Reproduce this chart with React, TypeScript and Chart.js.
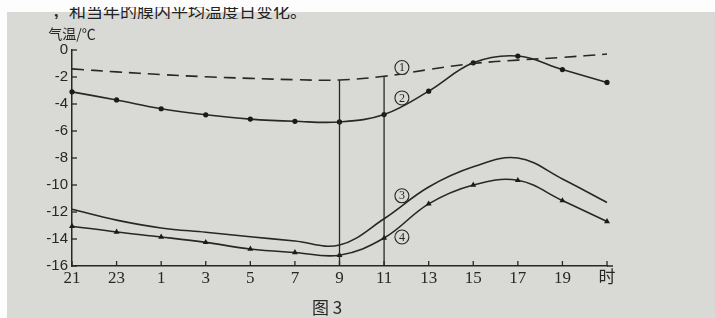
import React, { useEffect, useRef } from "react";
import { Chart, registerables } from "chart.js";

Chart.register(...registerables);

// Hours of the day (last position is the unit label "时", i.e. 21 h)
const hours = ["21", "23", "1", "3", "5", "7", "9", "11", "13", "15", "17", "19", "时"];
const yTicks = [0, -2, -4, -6, -8, -10, -12, -14, -16];

// ① dashed line (no markers)
const line1 = [-1.4, -1.62, -1.82, -1.98, -2.1, -2.2, -2.22, -1.95, -1.45, -1.0, -0.75, -0.55, -0.3];
// ② solid line with dots
const line2 = [-3.1, -3.7, -4.35, -4.8, -5.12, -5.28, -5.33, -4.78, -3.05, -0.95, -0.45, -1.45, -2.4];
// ③ solid line without markers
const line3 = [-11.8, -12.6, -13.18, -13.5, -13.83, -14.15, -14.45, -12.5, -10.15, -8.65, -8.0, -9.55, -11.3];
// ④ solid line with triangles
const line4 = [-13.05, -13.48, -13.85, -14.25, -14.74, -15.0, -15.2, -13.93, -11.4, -10.0, -9.65, -11.15, -12.7];

const labelNames = ["①", "②", "③", "④"];
const labelDigits = ["1", "2", "3", "4"];
const labelAnchors = [
  [7.4, -1.3],
  [7.4, -3.55],
  [7.4, -10.8],
  [7.4, -13.85],
];

const INK = "#272727";

const decorPlugin = {
  id: "decor",
  afterDraw(chart: any) {
    const ctx = chart.ctx as CanvasRenderingContext2D;
    const xs = chart.scales.x;
    const ys = chart.scales.y;
    const bottom = ys.getPixelForValue(-16);
    const left = xs.getPixelForValue(0);
    ctx.save();
    ctx.strokeStyle = INK;
    ctx.lineWidth = 1.3;
    // vertical guide lines at 9 and 11 up to the dashed line
    [6, 7].forEach((i) => {
      const x = xs.getPixelForValue(i);
      ctx.beginPath();
      ctx.moveTo(x, bottom);
      ctx.lineTo(x, ys.getPixelForValue(line1[i]));
      ctx.stroke();
    });
    // x axis runs a little past the last tick
    ctx.lineWidth = 1.5;
    ctx.beginPath();
    ctx.moveTo(xs.getPixelForValue(hours.length - 1), bottom);
    ctx.lineTo(xs.getPixelForValue(hours.length - 1) + 6, bottom);
    ctx.stroke();
    // inward ticks
    ctx.lineWidth = 1.3;
    hours.forEach((_, i) => {
      const x = xs.getPixelForValue(i);
      ctx.beginPath();
      ctx.moveTo(x, bottom);
      ctx.lineTo(x, bottom - 5);
      ctx.stroke();
    });
    yTicks.forEach((v) => {
      const y = ys.getPixelForValue(v);
      ctx.beginPath();
      ctx.moveTo(left, y);
      ctx.lineTo(left + 5, y);
      ctx.stroke();
    });
    // circled labels
    labelAnchors.forEach(([xi, yv], k) => {
      const cx = xs.getPixelForValue(xi);
      const cy = ys.getPixelForValue(yv);
      ctx.fillStyle = "rgba(217,217,213,1)";
      ctx.beginPath();
      ctx.arc(cx, cy, 7, 0, Math.PI * 2);
      ctx.fill();
      ctx.lineWidth = 1.1;
      ctx.beginPath();
      ctx.arc(cx, cy, 7, 0, Math.PI * 2);
      ctx.stroke();
      ctx.fillStyle = INK;
      ctx.font = "12px 'Liberation Serif'";
      ctx.textAlign = "center";
      ctx.textBaseline = "middle";
      ctx.fillText(labelDigits[k], cx, cy + 0.5);
    });
    // axis title and caption
    ctx.fillStyle = INK;
    ctx.font = "14px 'Noto Sans CJK SC'";
    ctx.textAlign = "center";
    ctx.textBaseline = "middle";
    ctx.fillText("气温/℃", left, 34);
    ctx.font = "17px 'Noto Sans CJK SC'";
    ctx.fillText("图 3", 327, 308);
    ctx.restore();
  },
};

export default function App() {
  const ref = useRef<HTMLCanvasElement>(null);
  useEffect(() => {
    document.body.style.margin = "0";
    const base = {
      borderColor: INK,
      backgroundColor: INK,
      borderWidth: 1.6,
      fill: false,
      tension: 0.38,
      pointBackgroundColor: "#1a1a1a",
      pointBorderColor: "#1a1a1a",
      pointBorderWidth: 0,
    };
    const chart = new Chart(ref.current as HTMLCanvasElement, {
      type: "line",
      data: {
        labels: hours,
        datasets: [
          { ...base, label: labelNames[0], data: line1, borderDash: [12, 7], pointRadius: 0 },
          { ...base, label: labelNames[1], data: line2, pointRadius: 2.6, pointStyle: "circle" },
          { ...base, label: labelNames[2], data: line3, pointRadius: 0 },
          { ...base, label: labelNames[3], data: line4, pointRadius: 3.4, pointStyle: "triangle" },
        ],
      },
      options: {
        responsive: false,
        animation: false,
        devicePixelRatio: 1,
        layout: { padding: { left: 0, right: 108, top: 50, bottom: 0 } },
        plugins: { legend: { display: false }, tooltip: { enabled: false } },
        scales: {
          x: {
            type: "category",
            offset: false,
            grid: { display: false, drawTicks: false },
            border: { display: true, color: INK, width: 1.5 },
            ticks: {
              color: INK,
              font: { family: "'Liberation Serif', 'Noto Sans CJK SC'", size: 17 },
              padding: 2,
              autoSkip: false,
              maxRotation: 0,
            },
            afterFit: (s: any) => {
              s.height = 52;
            },
          },
          y: {
            min: -16,
            max: 0,
            grid: { display: false, drawTicks: false },
            border: { display: true, color: INK, width: 1.5 },
            ticks: {
              stepSize: 2,
              color: INK,
              font: { family: "'Liberation Sans'", size: 15 },
              padding: 4,
            },
            afterFit: (s: any) => {
              s.width = 72;
            },
          },
        },
      },
      plugins: [decorPlugin],
    });
    return () => chart.destroy();
  }, []);

  return (
    <div style={{ position: "relative", width: 715, height: 318, background: "#fdfdfd", overflow: "hidden" }}>
      <div style={{ position: "absolute", left: 7, top: 12, width: 708, height: 306, background: "#d9d9d5" }} />
      <div style={{ position: "absolute", left: 0, top: 7, width: 715, height: 12, overflow: "hidden" }}>
        <div
          style={{
            position: "absolute",
            left: 52,
            top: -5,
            fontSize: 17,
            lineHeight: "17px",
            fontFamily: "'Noto Sans CJK SC'",
            whiteSpace: "nowrap",
            color: "#222",
          }}
        >
          ，和当年的膜内平均温度日变化。
        </div>
      </div>
      <canvas ref={ref} width={715} height={318} style={{ position: "absolute", left: 0, top: 0 }} />
    </div>
  );
}
